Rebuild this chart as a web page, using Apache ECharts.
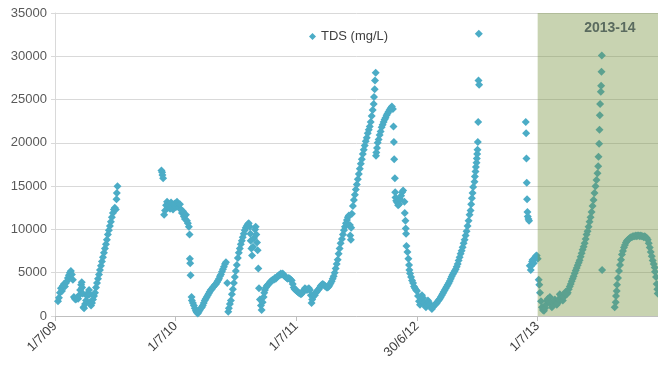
<!DOCTYPE html>
<html>
<head>
<meta charset="utf-8">
<script src="https://cdn.jsdelivr.net/npm/echarts@6/dist/echarts.min.js"></script>
<style>
html,body{margin:0;padding:0;background:#fff;}
#chart{width:658px;height:370px;}
</style>
</head>
<body>
<div id="chart"></div>
<script>
// x values are days since 1 Jul 2009
const tickLabels = ['1/7/09', '1/7/10', '1/7/11', '30/6/12', '1/7/13'];
const seriesName = 'TDS (mg/L)';
const shadeLabel = '2013-14';
const shadeStartDay = 1460;
const axisEndDay = 1824;

const days0910 = [9,12,15,18,21,24,27,30,33,36,39,42,45,48,51,54,57,60,63,67,70,73,76,79,81,82,84,86,88,91,94,97,100,103,105,106,109,112,115,118,121,124,127,130,133,136,139,142,145,148,151,154,157,160,163,166,169,172,175,178,181,184,186,187,189];
const tds0910 = [1700,2100,2700,3200,2900,3500,3700,3400,3800,4000,4400,4700,5000,5200,4800,4200,2200,2000,1900,2100,2000,2400,3000,3600,3900,3300,2600,1000,900,1400,1800,2300,2700,3000,2500,1600,1200,1500,1900,2300,2700,3300,3800,4300,4800,5300,5800,6300,6800,7300,7800,8300,8800,9400,9900,10400,10900,11400,11900,12300,12500,12300,13500,14200,15000];

const days1011 = [322,324,325,327,330,333,336,339,341,345,348,351,354,357,360,363,366,369,372,375,378,381,384,387,390,393,396,399,402,405,407,408,409,410,413,414,417,420,423,426,429,432,435,438,441,444,447,450,453,456,459,462,465,468,471,474,477,480,484,487,490,493,496,499,502,505,508,511,514,517,521,524,526,529,532,535,538,541,544,547,550,553,556,559,562,565,568,571,574,577,580,583,586,589,591,592,594,596,599,602,605,607,609,611,613,615];
const tds1011 = [16800,16600,16300,15900,11700,12200,12800,13200,12500,12900,12400,13100,12700,12300,12900,13000,12600,13200,12800,12500,12900,12300,11900,12100,11500,11200,11700,11000,10700,10300,9400,6600,6100,4700,2200,1800,1500,1200,900,600,400,300,500,700,900,1000,1200,1500,1800,2000,2200,2400,2600,2800,3000,3100,3300,3400,3600,3700,3900,4100,4300,4600,4800,5100,5400,5700,6000,6200,3800,500,900,1400,1800,2500,3100,3800,4500,5200,5900,6700,7300,7800,8300,8700,9100,9500,9900,10200,10400,10600,10700,10300,9500,8700,7800,7000,8000,9000,10000,10300,9400,8500,7600,5500];

const days1113 = [617,620,623,625,628,631,633,635,638,641,644,647,650,653,656,659,662,665,668,671,674,677,680,683,686,689,692,695,698,701,704,707,710,713,716,719,722,725,728,731,734,737,741,744,747,750,753,756,759,762,765,768,771,774,776,778,780,783,786,789,792,795,798,801,804,807,810,813,816,819,822,825,828,831,834,837,840,843,846,849,852,855,858,861,864,868,871,874,877,880,883,886,889,892,893,895,896,898,901,904,907,910,913,916,919,922,925,928,931,934,937,940,943,946,949,952,955,958,961,964,965,967,968,970,971,972,974,976,979,982,985,988,991,994,997,1000,1003,1006,1009,1012,1015,1019,1022,1024,1025,1026,1028,1029,1030,1032,1035,1038,1041,1044,1047,1050,1053,1057,1058,1060,1061,1062,1063,1066,1069,1071,1072,1074,1077,1080,1083,1086,1089,1092,1095,1098,1101,1104,1107,1110,1113,1116,1119,1122,1125,1128,1131,1134,1137,1140,1143,1146,1149,1152,1155,1158,1161,1164,1167,1170,1173,1176,1179,1182,1185,1188,1191,1194,1197,1200,1203,1206,1209,1212,1215,1218,1221,1224,1227,1230,1233,1236,1239,1242,1245,1248,1251,1254,1257,1259,1261,1263,1265,1269,1270,1272,1273,1275,1276,1277,1278,1279,1280,1281,1282,1283];
const tds1113 = [3200,1900,1200,700,1600,2200,2700,3000,3300,3500,3600,3700,3900,4000,4100,4200,4200,4400,4300,4500,4600,4700,4700,4900,4800,4900,4700,4600,4500,4400,4300,4400,4300,4200,4100,3700,3300,3100,3000,2900,2800,2700,2600,2500,2600,2800,3000,3200,3100,3000,3100,3200,3000,2400,1500,1900,2200,2500,2400,2700,2800,3000,3100,3300,3500,3600,3700,3600,3500,3400,3300,3300,3400,3600,3800,4000,4300,4600,5000,5500,6000,6500,7200,7800,8400,8900,9400,9900,10300,10700,11100,11400,11600,10500,9300,8800,10200,11800,12700,13400,14000,14600,15200,15800,16400,17000,17600,18100,18700,19200,19700,20200,20600,21100,21500,21900,22400,23100,23800,24500,25300,26200,27200,28100,18500,18900,19400,20000,20400,20900,21300,21800,22100,22400,22700,22900,23200,23400,23600,23800,24000,24200,23900,21900,20100,18100,15900,14300,13700,13300,13100,12800,12900,13500,13900,14300,14500,13200,11900,11000,10100,9500,8100,7400,6600,5900,5300,4900,4500,4100,3800,3400,3200,3000,2900,2300,1700,1300,1800,2400,2100,1600,1200,1000,1400,1800,1600,1300,1000,800,1000,1200,1300,1400,1500,1700,1850,2000,2200,2400,2600,2800,3000,3200,3400,3600,3800,4050,4300,4550,4800,5000,5200,5400,5700,6000,6400,6800,7200,7550,7950,8400,8800,9300,9800,10400,11000,11700,12200,12900,13600,14200,14900,15500,16100,16700,17200,17700,18200,18700,19200,20100,22400,27200,32600];

const days1314 = [1424,1425,1426,1427,1428,1429,1430,1432,1434,1436,1439,1441,1443,1445,1448,1451,1454,1457,1460,1463,1465,1467,1470,1473,1476,1479,1482,1485,1488,1491,1494,1497,1500,1503,1506,1509,1512,1515,1518,1521,1524,1527,1530,1533,1536,1539,1542,1545,1548,1551,1554,1557,1560,1563,1566,1569,1572,1575,1578,1581,1584,1587,1590,1593,1596,1599,1602,1605,1608,1611,1614,1617,1620,1623,1626,1629,1632,1635,1638,1641,1643,1644,1646,1647,1648,1649,1651,1652,1653,1654,1655,1693,1696,1697,1699,1700,1703,1706,1709,1712,1715,1718,1721,1724,1727,1730,1733,1736,1739,1742,1745,1748,1751,1754,1757,1760,1763,1766,1769,1772,1775,1778,1781,1784,1787,1790,1793,1796,1799,1802,1805,1808,1811,1814,1815,1818,1820,1822,1823,1824];
const tds1314 = [26700,22400,21100,18200,15400,13500,12000,11500,11200,11000,5800,5300,5800,6300,6500,6100,6600,6900,7000,6600,4200,3600,2700,1700,1000,700,600,900,1300,1800,2000,1700,2200,1500,1000,1200,1500,1900,1600,1300,1500,1900,2500,2300,2000,1800,2200,2600,2800,2500,2700,3100,3400,3700,4000,4300,4600,4950,5250,5550,5850,6150,6450,6850,7250,7650,8000,8400,8900,9400,9800,10300,10900,11400,12000,12700,13400,14200,15000,15700,16500,17300,18400,19900,21500,23200,24500,25900,26600,28200,30100,5300,1000,1600,2300,2900,3600,4400,5200,5900,6500,7100,7500,7900,8200,8500,8700,8800,8900,9000,9100,9100,9200,9200,9200,9300,9200,9300,9300,9200,9300,9200,9200,9100,9200,9100,9000,8800,8400,7900,7400,6900,6400,6000,5600,5100,4500,3700,3100,2600];

const allDays = [].concat(days0910, days1011, days1113, days1314);
const allTds = [].concat(tds0910, tds1011, tds1113, tds1314);
const points = allDays.map((d, i) => [d, allTds[i]]);

const chart = echarts.init(document.getElementById('chart'), null, {renderer: 'canvas'});
const font = 'Liberation Sans, Arial, sans-serif';
chart.setOption({
  animation: false,
  backgroundColor: '#ffffff',
  grid: {left: 55, right: 0, top: 13, bottom: 54, containLabel: false},
  legend: {
    data: [seriesName], left: 309, top: 30, padding: 0,
    icon: 'diamond', itemWidth: 7, itemHeight: 7,
    textStyle: {fontFamily: font, fontSize: 13, color: '#404040'}
  },
  xAxis: {
    type: 'value', min: 0, max: axisEndDay, interval: 365,
    splitLine: {show: false},
    axisLine: {lineStyle: {color: '#bfbfbf'}},
    axisTick: {show: true, length: 5, lineStyle: {color: '#bfbfbf'}},
    axisLabel: {
      rotate: 45, margin: 8, fontFamily: font, fontSize: 13, color: '#404040',
      showMaxLabel: false,
      formatter: function (v) { const i = Math.round(v / 365); return (v % 365 === 0 && tickLabels[i]) ? tickLabels[i] : ''; }
    }
  },
  yAxis: {
    type: 'value', min: 0, max: 35000, interval: 5000,
    splitLine: {lineStyle: {color: '#d9d9d9'}},
    axisLine: {show: true, lineStyle: {color: '#d9d9d9'}},
    axisTick: {show: true, length: 4, lineStyle: {color: '#d9d9d9'}},
    axisLabel: {margin: 8, fontFamily: font, fontSize: 13, color: '#595959',
      formatter: function (v) { return String(v); }}
  },
  series: [
    {
      name: seriesName, type: 'scatter', symbol: 'diamond', symbolSize: 8,
      itemStyle: {color: '#4bacc6', opacity: 1},
      data: points, z: 2
    },
    {
      name: 'shade', type: 'scatter', data: [], z: 5,
      markArea: {
        silent: true, z: 5,
        itemStyle: {color: 'rgba(118,146,60,0.40)'},
        label: {
          show: true, position: 'insideTop', offset: [12, 3],
          fontFamily: font, fontWeight: 'bold', fontSize: 14, color: '#5a6b5f',
          formatter: shadeLabel
        },
        data: [[{xAxis: shadeStartDay}, {xAxis: axisEndDay}]]
      }
    }
  ]
});
</script>
</body>
</html>
